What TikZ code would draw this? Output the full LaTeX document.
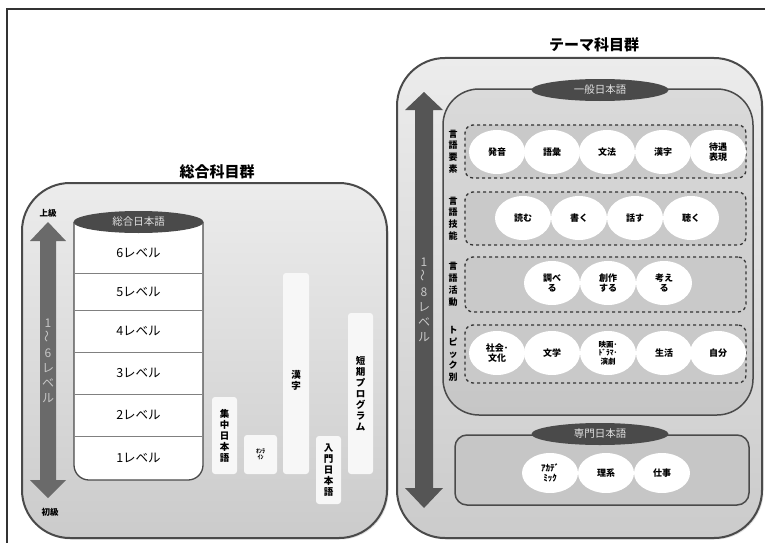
\documentclass[tikz,border=0pt]{standalone}
\usepackage{fontspec}
\setmainfont{Noto Sans CJK JP}
\usetikzlibrary{shapes.geometric,shadows}
\definecolor{framec}{HTML}{333333}
\definecolor{bord}{HTML}{4A4A4A}
\definecolor{pTop}{HTML}{ECECEC}
\definecolor{pBot}{HTML}{CBCBCB}
\definecolor{inTop}{HTML}{DADADA}
\definecolor{inBot}{HTML}{C6C6C6}
\definecolor{hdr}{HTML}{4A4A4A}
\definecolor{arrL}{HTML}{6A6A6A}
\definecolor{arrR}{HTML}{555555}
\definecolor{dashfill}{HTML}{C9C9C9}
\tikzset{
  panel/.style={draw=bord,line width=2pt,top color=pTop,bottom color=pBot,rounded corners=48pt,
    drop shadow={opacity=0.25,shadow xshift=1.5pt,shadow yshift=-1.5pt}},
  hdrell/.style={ellipse,fill=hdr,inner sep=0pt,minimum width=137pt,minimum height=22pt,
    text=white!88!black,font=\fontsize{10.5}{11}\selectfont},
  levtext/.style={font=\fontsize{12.5}{13}\selectfont},
  barbox/.style={fill=white!97!black,rounded corners=3pt,inner sep=0pt,align=center,
    font=\fontsize{9.5}{11}\selectfont\bfseries},
  vlab/.style={align=center,inner sep=0pt,font=\fontsize{9}{11.8}\selectfont\bfseries},
  circ/.style={ellipse,fill=white,inner sep=0pt,minimum width=56pt,minimum height=44pt,align=center,
    font=\fontsize{9}{10}\selectfont\bfseries},
  dashbox/.style={draw=framec,dashed,line width=1.3pt,rounded corners=8pt,fill=dashfill,inner sep=0pt},
  title/.style={font=\fontsize{15}{16}\selectfont\bfseries},
  arrtext/.style={align=center,inner sep=0pt,text=white!78!black,font=\fontsize{12}{15}\selectfont},
  endlab/.style={font=\fontsize{8.5}{9}\selectfont\bfseries}
}
\newcommand{\vtil}{\rotatebox{90}{～}}
\begin{document}
\begin{tikzpicture}[x=1pt,y=-1pt]
\useasboundingbox (0,0) rectangle (765,543);
\fill[white] (0,0) rectangle (765,543);
\draw[framec,line width=2pt] (765,9) -- (7,9) -- (7,543);

% ===== left group =====
\node[title] (tL) at (217,172) {総合科目群};
\draw[panel] (22,183) rectangle (387,538);
\fill[arrL] (48,222) -- (66,241) -- (56,241) -- (56,480) -- (66,480) -- (48,498)
  -- (30,480) -- (40,480) -- (40,241) -- (30,241) -- cycle;
\node[arrtext] (a6) at (48,361) {1\\\vtil\\6\\レ\\ベ\\ル};
\node[endlab] (jo) at (48,213) {上級};
\node[endlab] (sho) at (50,512) {初級};

\draw[bord,line width=1.3pt,fill=white,rounded corners=15pt] (74,222) -- (74,480) -- (203,480) -- (203,222);
\foreach \yy in {273,310,352,394,436} \draw[gray,line width=1pt] (74.6,\yy) -- (202.4,\yy);
\node[hdrell,minimum width=130pt] (sogo) at (138.5,222) {総合日本語};
\node[levtext] (L6) at (138.5,253) {6レベル};
\node[levtext] (L5) at (138.5,291.5) {5レベル};
\node[levtext] (L4) at (138.5,331) {4レベル};
\node[levtext] (L3) at (138.5,373) {3レベル};
\node[levtext] (L2) at (138.5,415) {2レベル};
\node[levtext] (L1) at (138.5,458) {1レベル};

\node[barbox,minimum width=25pt,minimum height=77pt] (shuchu) at (224.5,435.5) {集\\中\\日\\本\\語};
\node[barbox,minimum width=33pt,minimum height=39pt,font=\fontsize{6}{6.5}\selectfont\bfseries] (online) at (260.5,454.5) {ｵﾝﾗ\\ｲﾝ};
\node[barbox,minimum width=26pt,minimum height=201pt] (kanji) at (296,373.5) {};
\node[vlab,font=\fontsize{9.5}{11}\selectfont\bfseries] (kanjit) at (296,380) {漢\\字};
\node[barbox,minimum width=25pt,minimum height=68pt] (nyumon) at (328.5,470) {入\\門\\日\\本\\語};
\node[barbox,minimum width=25pt,minimum height=161pt] (tanki) at (360.5,393.5) {短\\期\\プ\\ロ\\グ\\ラ\\ム};

% ===== right group =====
\node[title] (tR) at (594,45) {テーマ科目群};
\draw[panel] (397,58) rectangle (762,538);
\fill[arrR] (424,92) -- (443,110) -- (433,110) -- (433,488) -- (443,488) -- (424,508)
  -- (405,488) -- (415,488) -- (415,110) -- (405,110) -- cycle;
\node[arrtext] (a8) at (424,300) {1\\\vtil\\8\\レ\\ベ\\ル};

\draw[bord,line width=1.5pt,top color=inTop,bottom color=inBot,rounded corners=36pt] (443,89) rectangle (753,415);
\node[hdrell] (ippan) at (600,90) {一般日本語};

\node[dashbox,minimum width=281pt,minimum height=53pt] (r1) at (605.5,151.5) {};
\node[dashbox,minimum width=281pt,minimum height=53pt] (r2) at (605.5,218.5) {};
\node[dashbox,minimum width=281pt,minimum height=55pt] (r3) at (605.5,284.5) {};
\node[dashbox,minimum width=281pt,minimum height=58pt] (r4) at (605.5,354) {};

\node[vlab] (s1) at (453,151.5) {言\\語\\要\\素};
\node[vlab] (s2) at (453,218.5) {言\\語\\技\\能};
\node[vlab] (s3) at (453,284.5) {言\\語\\活\\動};
\node[vlab] (s4) at (453,354) {ト\\ピ\\ッ\\ク\\別};

\node[circ] (c11) at (497,152) {発音};
\node[circ] (c12) at (552,152) {語彙};
\node[circ] (c13) at (607,152) {文法};
\node[circ] (c14) at (663,152) {漢字};
\node[circ] (c15) at (718,152) {待遇\\表現};

\node[circ] (c21) at (523,218) {読む};
\node[circ] (c22) at (579,218) {書く};
\node[circ] (c23) at (635,218) {話す};
\node[circ] (c24) at (691,218) {聴く};

\node[circ] (c31) at (552,283) {調べ\\る};
\node[circ] (c32) at (608,283) {創作\\する};
\node[circ] (c33) at (664,283) {考え\\る};

\node[circ] (c41) at (497,353) {社会･\\文化};
\node[circ] (c42) at (552,353) {文学};
\node[circ,font=\fontsize{7.5}{8.5}\selectfont\bfseries] (c43) at (608,353) {映画･\\ﾄﾞﾗﾏ･\\演劇};
\node[circ] (c44) at (664,353) {生活};
\node[circ] (c45) at (718,353) {自分};

\draw[bord,line width=1.5pt,fill=inBot,rounded corners=12pt] (455,435) rectangle (749,505);
\node[hdrell] (senmon) at (600,434) {専門日本語};
\node[circ,minimum height=40pt] (c51) at (550,473) {ｱｶﾃﾞ\\ﾐｯｸ};
\node[circ,minimum height=40pt] (c52) at (606,473) {理系};
\node[circ,minimum height=40pt] (c53) at (662,473) {仕事};
\end{tikzpicture}
\end{document}
